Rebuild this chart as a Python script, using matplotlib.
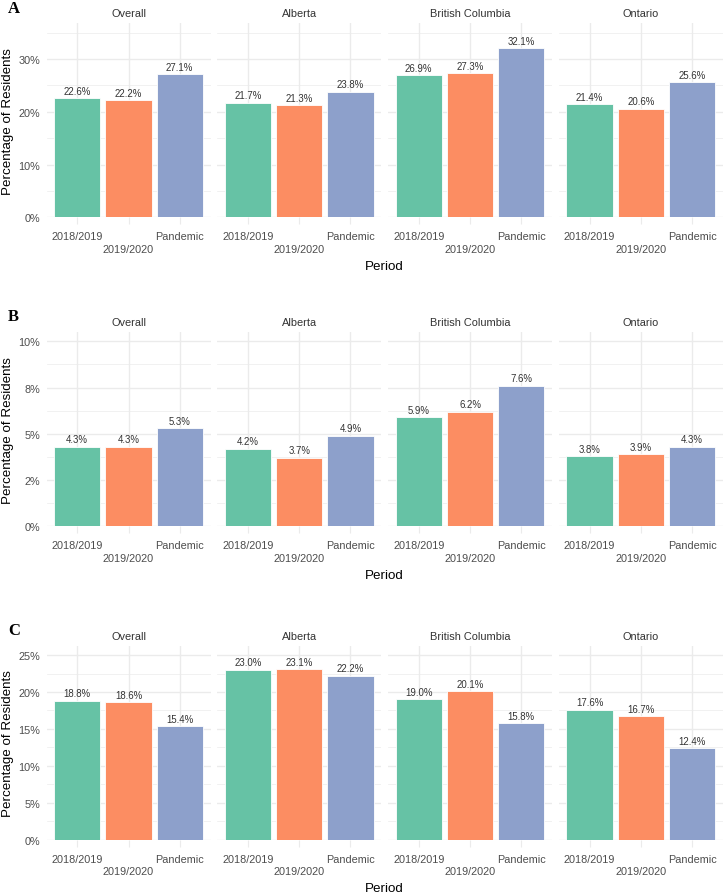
import numpy as np
import matplotlib
matplotlib.use("Agg")
import matplotlib.pyplot as plt

plt.rcParams['font.family'] = ['Liberation Sans', 'DejaVu Sans']

# data (percent of residents)
periods = ["2018/2019", "2019/2020", "Pandemic"]
regions = ["Overall", "Alberta", "British Columbia", "Ontario"]
colors = ["#66C2A5", "#FC8D62", "#8DA0CB"]

panel_a = [[22.6, 22.2, 27.1], [21.7, 21.3, 23.8], [26.9, 27.3, 32.1], [21.4, 20.6, 25.6]]
panel_b = [[4.3, 4.3, 5.3], [4.2, 3.7, 4.9], [5.9, 6.2, 7.6], [3.8, 3.9, 4.3]]
panel_c = [[18.8, 18.6, 15.4], [23.0, 23.1, 22.2], [19.0, 20.1, 15.8], [17.6, 16.7, 12.4]]

ticks_a = [0, 10, 20, 30]
ticks_b = [0, 2.5, 5, 7.5, 10]
ticks_c = [0, 5, 10, 15, 20, 25]
labels_a = ["0%", "10%", "20%", "30%"]
labels_b = ["0%", "2%", "5%", "8%", "10%"]
labels_c = ["0%", "5%", "10%", "15%", "20%", "25%"]

W, H = 725, 895
fig = plt.figure(figsize=(W / 100, H / 100), dpi=100)


def box(x0, y0, x1, y1):
    return [x0 / W, 1 - y1 / H, (x1 - x0) / W, (y1 - y0) / H]


col_x = [46.5, 217.2, 388.0, 558.8]
col_w = 164.0
rows = [
    ("A", panel_a, 24.4, 218.3, 36.75, ticks_a, labels_a),
    ("B", panel_b, 333.0, 527.3, 10.5, ticks_b, labels_b),
    ("C", panel_c, 646.8, 840.7, 26.25, ticks_c, labels_c),
]

grid_col = "#EBEBEB"
x = np.arange(1, 4)
xlabels = [periods[0], "\n" + periods[1], periods[2]]

for letter, data, top, bottom, ymax, yt, yl in rows:
    for j, reg in enumerate(regions):
        ax = fig.add_axes(box(col_x[j], top, col_x[j] + col_w, bottom))
        vals = data[j]
        ax.bar(x, vals, width=0.9, color=colors, edgecolor="white", linewidth=0.6, zorder=3)
        for xi, v in zip(x, vals):
            ax.annotate(f"{v:.1f}%", (xi, v), xytext=(0, 5.3), textcoords="offset points",
                        ha="center", va="center", fontsize=6.9, color="#333333", zorder=4)
        ax.set_xlim(0.4, 3.6)
        ax.set_ylim(0, ymax)
        ax.set_yticks(yt)
        ax.set_yticks([t + (yt[1] - yt[0]) / 2 for t in yt if t + (yt[1] - yt[0]) / 2 < ymax], minor=True)
        if j == 0:
            ax.set_yticklabels(yl)
        else:
            ax.set_yticklabels([])
        ax.set_xticks(x)
        ax.set_xticklabels(xlabels)
        ax.tick_params(axis="x", length=5, width=0.8, color=grid_col, pad=5.0,
                       labelsize=7.8, labelcolor="#4D4D4D")
        ax.tick_params(axis="y", which="both", length=0, pad=4.7, labelsize=7.8, labelcolor="#4D4D4D")
        for t in ax.get_xticklabels():
            t.set_verticalalignment("top")
            t.set_linespacing(1.3)
        ax.grid(True, which="major", color=grid_col, linewidth=1.0, zorder=0)
        ax.grid(True, which="minor", axis="y", color=grid_col, linewidth=0.5, zorder=0)
        ax.set_axisbelow(True)
        for s in ax.spines.values():
            s.set_visible(False)
        ax.set_title(reg, fontsize=7.9, color="#333333", pad=5.0)
    # panel letter and axis titles
    fig.text(13.7 / W, 1 - (top - 15.8) / H, letter, fontsize=12, fontweight="bold",
             family=["Liberation Serif", "DejaVu Serif"], ha="center", va="center")
    fig.text(8.5 / W, 1 - ((top + bottom) / 2) / H, "Percentage of Residents", rotation=90,
             fontsize=9.6, ha="center", va="center", color="black")
    fig.text(384.7 / W, 1 - (bottom + 48.5) / H, "Period", fontsize=9.6,
             ha="center", va="center", color="black")

fig.savefig("out.png", dpi=100)
